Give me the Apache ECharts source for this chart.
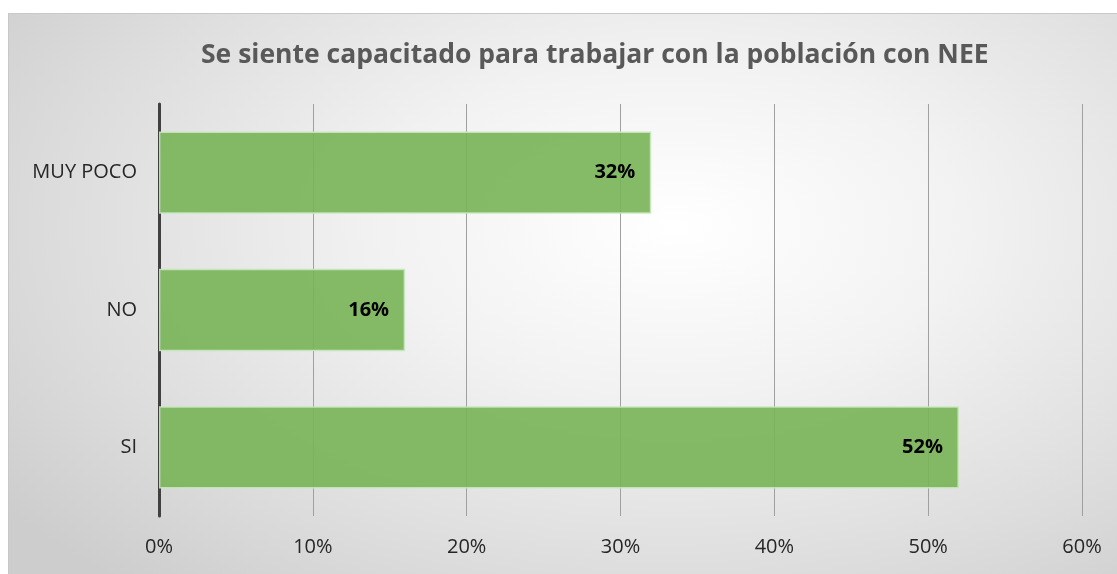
<!DOCTYPE html>
<html>
<head>
<meta charset="utf-8">
<script src="https://cdn.jsdelivr.net/npm/echarts@6/dist/echarts.min.js"></script>
<style>
  html, body { margin: 0; padding: 0; background: #fff; }
  #frame {
    position: absolute; left: 8px; top: 13px; width: 1109px; height: 561px;
    box-sizing: border-box; border-top: 1px solid #c8c8c8; border-left: 1px solid #c8c8c8;
    background: radial-gradient(ellipse 75% 85% at 60% 38%, #ffffff 0%, #f2f2f2 35%, #dcdcdc 75%, #cdcdcd 100%);
  }
  #chart { width: 100%; height: 100%; }
</style>
</head>
<body>
<div id="frame"><div id="chart"></div></div>
<script>
// categories bottom -> top, as ECharts draws category y-axis
const categories = ['SI', 'NO', 'MUY POCO'];
const percentages = [52, 16, 32];
const chartTitle = 'Se siente capacitado para trabajar con la población con NEE';

const chart = echarts.init(document.getElementById('chart'));

const option = {
    backgroundColor: 'transparent',
    animation: false,
    title: {
        text: chartTitle,
        left: 187,
        top: 23,
        textStyle: { fontFamily: 'Open Sans', fontSize: 26.5, fontWeight: 'bold', color: '#595959' }
    },
    grid: { left: 150, right: 35, top: 90, bottom: 58, containLabel: false },
    xAxis: {
        type: 'value',
        min: 0,
        max: 60,
        interval: 10,
        axisLine: { show: false },
        axisTick: { show: false },
        axisLabel: {
            formatter: '{value}%',
            margin: 21,
            fontFamily: 'Open Sans',
            fontSize: 20,
            color: '#262626'
        },
        splitLine: { show: true, lineStyle: { color: '#a0a0a0', width: 1 } }
    },
    yAxis: {
        type: 'category',
        data: categories,
        axisLine: { show: true, lineStyle: { color: '#404040', width: 3 } },
        axisTick: { show: false },
        axisLabel: {
            margin: 22,
            fontFamily: 'Open Sans',
            fontSize: 20,
            color: '#262626'
        }
    },
    series: [{
        type: 'bar',
        data: percentages,
        barCategoryGap: '40%',
        itemStyle: {
            color: 'rgba(120, 180, 86, 0.9)',
            borderColor: 'rgba(200, 230, 190, 0.9)',
            borderWidth: 1.5
        },
        label: {
            show: true,
            position: 'insideRight',
            distance: 16,
            formatter: '{c}%',
            fontFamily: 'Open Sans',
            fontSize: 20,
            fontWeight: 'bold',
            color: '#000'
        }
    }]
};

chart.setOption(option);
window.addEventListener('resize', () => chart.resize());
</script>
</body>
</html>
